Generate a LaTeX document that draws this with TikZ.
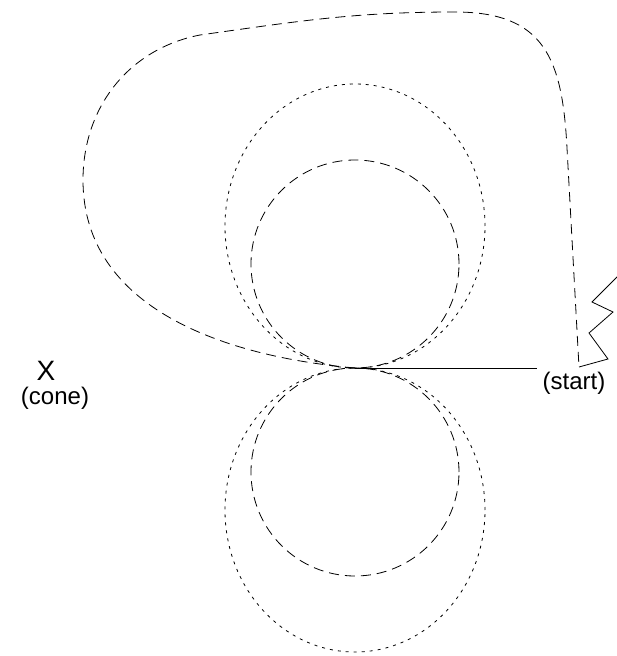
\documentclass[tikz,border=0pt]{standalone}
\usepackage{fontspec}
\setmainfont{Liberation Sans}
\begin{document}
\begin{tikzpicture}[x=1pt,y=1pt,line width=0.8pt,
  longdash/.style={dash pattern=on 10pt off 6pt},
  shortdash/.style={dash pattern=on 3pt off 5pt},
  lbl/.style={inner sep=0pt, font=\fontsize{24}{27}\selectfont}]
\useasboundingbox (-355,-288) rectangle (261,368);
\coordinate (o) at (0,0);
% inner circles
\draw[longdash] (0,104) circle(104);
\draw[longdash] (0,-104) circle(104);
% outer ovals
\draw[shortdash] (0,142) ellipse(130 and 142);
\draw[shortdash] (0,-142) ellipse(130 and 142);

\coordinate (lineend) at (182,0);
\draw[line width=0.6pt] (o)--(lineend);

\coordinate (loopend) at (224,1);
\draw[longdash] (o) to [out=175, in=-90] (-272,188) to [out=90, in=-169] (-155,333)
  to [out=8, in=180] (100,356) to [out=0, in=93, looseness=1.3] (212,220) -- (loopend);
\draw (loopend)--(253,9)--(234,35)--(258,56)--(237,66)--(263,92);

\node[lbl, font=\fontsize{28}{30}\selectfont] (x) at (-309,-3) {X};
\node[lbl] (cone) at (-300,-30) {(cone)};
\node[lbl] (start) at (219,-15) {(start)};
\end{tikzpicture}
\end{document}
